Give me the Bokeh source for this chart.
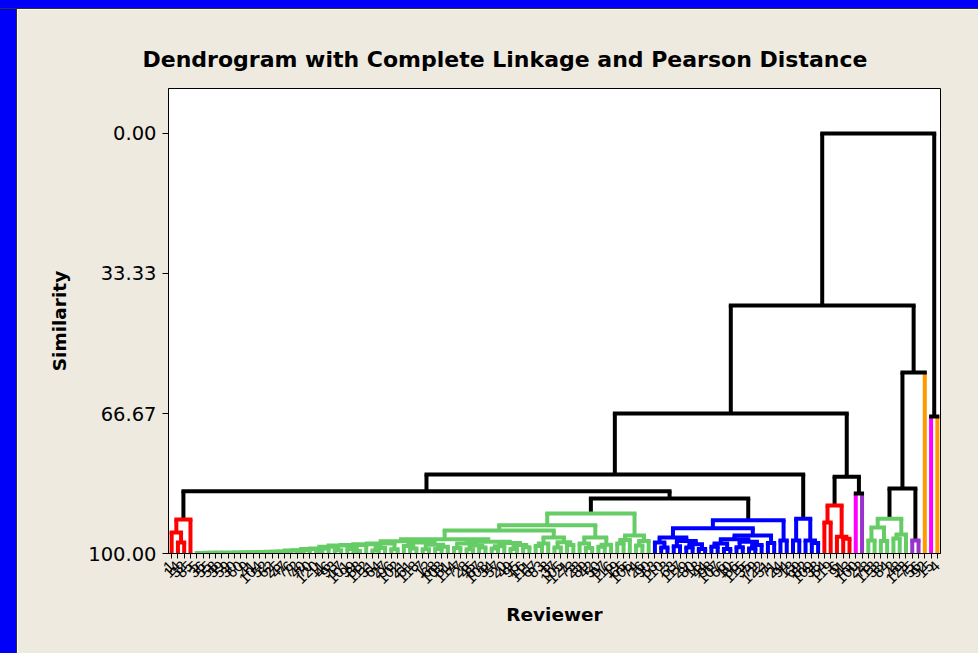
import math
from bokeh.plotting import figure
from bokeh.models import Range1d, FixedTicker, NumeralTickFormatter, ColumnDataSource, Div
from bokeh.layouts import row, column
from bokeh.embed import file_html
from bokeh.resources import INLINE

BEIGE = "#EEEAE0"
BLUE = "#0000F8"

# ---------------- data ----------------
title_text = "Dendrogram with Complete Linkage and Pearson Distance"
y_ticks = [0.0, 33.33, 66.67, 100.0]

# reviewer ids in dendrogram leaf order
leaf_labels = [
    1, 14, 32, 85, 5, 36, 55, 58, 39, 59,
    30, 60, 9, 41, 104, 52, 62, 25, 47, 76,
    72, 40, 70, 120, 11, 46, 93, 17, 101, 99,
    88, 112, 31, 64, 27, 96, 102, 21, 61, 118,
    7, 12, 68, 103, 81, 114, 77, 28, 45, 87,
    108, 34, 57, 20, 49, 95, 16, 111, 67, 83,
    8, 37, 105, 121, 73, 23, 89, 42, 50, 97,
    116, 19, 65, 106, 74, 26, 90, 53, 110, 3,
    63, 117, 29, 80, 18, 44, 98, 107, 66, 10,
    86, 115, 35, 79, 122, 51, 71, 24, 94, 13,
    69, 82, 109, 38, 54, 119, 6, 91, 43, 100,
    22, 78, 113, 33, 84, 2, 48, 123, 75, 56,
    92, 15, 4,
]

# final-partition groups (consecutive leaves) and their colours
group_sizes = [4, 73, 22, 5, 5, 1, 1, 7, 2, 1, 1, 1]
group_colors = ["#FF0000", "#66CC66", "#0000FF", "#0000FF", "#FF0000", "#FF00FF",
                "#9933CC", "#66CC66", "#9933CC", "#FF9900", "#FF00FF", "#FF9900"]

# merges: [left, right, similarity]; ints are leaf positions
K = [[0, [1, 2, 97.4], 95.0], 3, 91.9]

T = [[37, [38, 39, 98.8], 98.2], [[40, 41, 99.0], [[42, 43, 98.9], 44, 98.4], 97.9], 97.4]
chain_start = 4
chain_items = [
    (5, 99.9), (6, 99.9), (7, 99.85), (8, 99.85), (9, 99.8), (10, 99.8), (11, 99.8),
    (12, 99.75), (13, 99.75), (14, 99.7), (15, 99.7), (16, 99.65), (17, 99.6), (18, 99.6),
    (19, 99.5), ([20, 21, 99.7], 99.3), (22, 99.2), ([23, 24, 99.5], 98.9), (25, 98.8),
    ([26, 27, 99.2], 98.4), ([28, [29, 30, 99.4], 98.9], 98.1), (31, 98.0),
    ([[32, 33, 99.3], 34, 98.7], 97.8), ([35, 36, 99.0], 97.6), (T, 97.1),
]
chain = chain_start
for item, s in chain_items:
    chain = [chain, item, s]

S2a = [[45, 46, 98.7], [[47, 48, 99.0], [49, 50, 98.6], 98.1], 97.6]
S2b = [[[51, 52, 98.8], 53, 98.3], [[54, 55, 98.9], [56, 57, 98.5], 98.0], 97.5]
S = [chain, [S2a, S2b, 97.2], 96.6]
R = [[[58, 59, 98.2], 60, 97.6], [[61, 62, 98.6], [63, 64, 98.0], 97.3], 96.2]
M1b = [[65, [66, 67, 98.7], 97.6], [[68, 69, 98.4], 70, 97.9], 96.2]
M2 = [[[71, 72, 97.6], 73, 96.8], [[74, 75, 98.1], 76, 97.0], 95.7]
M = [[[S, R, 94.5], M1b, 93.3], M2, 90.5]

NL1 = [[77, [78, 79, 98.6], 97.4], [[80, 81, 98.3], [[82, 83, 98.6], [84, 85, 98.9], 97.8], 97.0], 96.2]
NL2a = [[[86, 87, 98.4], [88, 89, 98.9], 97.6], [[90, 91, 98.5], [[92, 93, 98.8], 94, 98.0], 97.2], 96.6]
N = [[NL1, [NL2a, [95, 96, 97.5], 95.7], 94.0], [97, 98, 96.9], 92.1]
I = [[99, 100, 96.9], [101, [102, 103, 97.5], 96.9], 91.7]
RED2 = [[104, 105, 92.6], [106, [107, 108, 96.5], 96.0], 88.6]
GREEN2 = [[[111, 112, 96.9], [113, 114, 97.0], 93.8], [[115, 116, 96.4], 117, 95.5], 91.7]

F = [[K, [M, N, 86.9], 85.2], I, 81.2]
G = [RED2, [109, 110, 85.7], 81.7]
D = [[GREEN2, [118, 119, 96.9], 84.5], 120, 56.9]
root = [[[F, G, 66.67], D, 40.95], [121, 122, 67.4], 0.0]

# ---------------- build segments ----------------
n = sum(group_sizes)
leaf_group = []
for g, size in enumerate(group_sizes):
    leaf_group += [g] * size

H = dict(x0=[], y0=[], x1=[], y1=[], color=[])
V = dict(x0=[], y0=[], x1=[], y1=[], color=[])


def walk(node):
    if isinstance(node, int):
        return float(node), 100.0, leaf_group[node], True
    left, right, sim = node
    kids = [walk(left), walk(right)]
    gl, gr = kids[0][2], kids[1][2]
    same = gl is not None and gl == gr
    H["x0"].append(kids[0][0]); H["x1"].append(kids[1][0])
    H["y0"].append(sim); H["y1"].append(sim)
    H["color"].append(group_colors[gl] if same else "black")
    for xc, hc, gc, isleaf in kids:
        V["x0"].append(xc); V["x1"].append(xc)
        V["y0"].append(hc); V["y1"].append(sim)
        V["color"].append(group_colors[gc] if (same or isleaf) else "black")
    return (kids[0][0] + kids[1][0]) / 2.0, sim, (gl if same else None), False


walk(root)

# ---------------- figure ----------------
p = figure(width=961, height=644, toolbar_location=None, output_backend="svg",
           x_range=Range1d(-0.5, n - 0.5), y_range=Range1d(100, -10.71),
           min_border_left=151, min_border_right=38, min_border_top=79, min_border_bottom=100,
           background_fill_color="white", border_fill_color=BEIGE,
           outline_line_color="black", title=title_text)

p.segment(x0="x0", y0="y0", x1="x1", y1="y1", line_color="color", line_width=4,
          line_cap="butt", source=ColumnDataSource(V))
p.segment(x0="x0", y0="y0", x1="x1", y1="y1", line_color="color", line_width=4,
          line_cap="square", source=ColumnDataSource(H))

p.grid.visible = False

p.title.align = "left"
p.title.offset = -26
p.title.text_font = "DejaVu Sans"
p.title.text_font_size = "22px"
p.title.text_font_style = "bold"
p.title.text_color = "black"
p.title.standoff = 34

xa = p.xaxis[0]
xa.ticker = FixedTicker(ticks=list(range(n)))
xa.major_label_overrides = {i: str(leaf_labels[i]) for i in range(n)}
xa.major_label_orientation = math.pi / 4
xa.major_label_text_font = "Liberation Sans"
xa.major_label_text_font_size = "15px"
xa.major_label_text_color = "black"
xa.major_label_standoff = 5
xa.major_tick_out = 5
xa.major_tick_in = 0
xa.minor_tick_line_color = None
xa.axis_line_color = "black"
xa.major_tick_line_color = "black"
xa.axis_label = "Reviewer"
xa.axis_label_text_font = "DejaVu Sans"
xa.axis_label_text_font_size = "18.5px"
xa.axis_label_text_font_style = "bold"
xa.axis_label_text_color = "black"
xa.axis_label_standoff = 13

ya = p.yaxis[0]
ya.ticker = FixedTicker(ticks=y_ticks)
ya.formatter = NumeralTickFormatter(format="0.00")
ya.major_label_text_font = "DejaVu Sans"
ya.major_label_text_font_size = "19.5px"
ya.major_label_text_color = "black"
ya.major_label_standoff = 6
ya.major_tick_out = 6
ya.major_tick_in = 0
ya.minor_tick_line_color = None
ya.axis_line_color = "black"
ya.axis_label = "Similarity"
ya.axis_label_text_font = "DejaVu Sans"
ya.axis_label_text_font_size = "18.5px"
ya.axis_label_text_font_style = "bold"
ya.axis_label_text_color = "black"
ya.axis_label_standoff = 15

top_strip = Div(text="", width=978, height=9, margin=0,
                styles={"background-color": BLUE, "box-shadow": "inset 0 -1px 0 #303030"})
left_strip = Div(text="", width=17, height=644, margin=0,
                 styles={"background-color": BLUE, "box-shadow": "inset -1px 0 0 #303030"})

layout = column(top_strip, row(left_strip, p))
open("out.html", "w").write(file_html(layout, INLINE))
